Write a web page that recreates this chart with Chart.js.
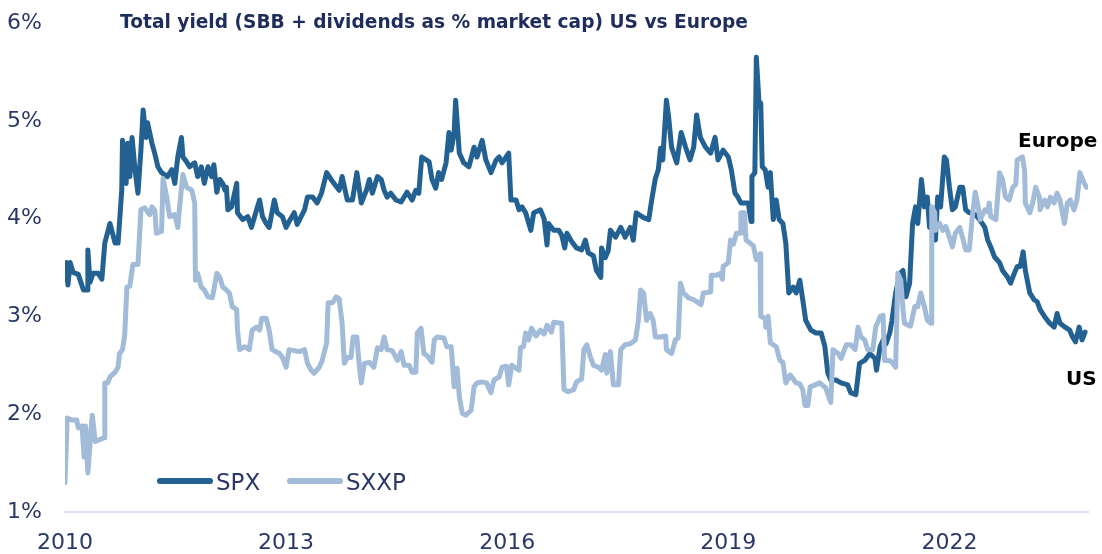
<!DOCTYPE html>
<html lang="en">
<head>
  <meta charset="UTF-8" />
  <title>Total yield US vs Europe</title>
  <script src="https://cdn.jsdelivr.net/npm/chart.js"></script>
  <style>
    body { margin: 0; background: #fff; }
    #wrap { width: 1102px; height: 554px; }
  </style>
</head>
<body>
<div id="wrap"><canvas id="yieldChart" width="1102" height="554"></canvas></div>

<script>
  // Dates as decimal years, values in % of market cap
  const spxYears = [2010.00,2010.02,2010.04,2010.07,2010.11,2010.18,2010.25,2010.30,2010.31,2010.34,2010.38,2010.45,2010.50,2010.54,2010.61,2010.68,2010.72,2010.77,2010.78,2010.83,2010.85,2010.88,2010.91,2010.95,2010.99,2011.03,2011.06,2011.10,2011.12,2011.18,2011.22,2011.26,2011.31,2011.39,2011.45,2011.49,2011.53,2011.58,2011.60,2011.65,2011.69,2011.76,2011.80,2011.85,2011.89,2011.94,2011.99,2012.02,2012.06,2012.10,2012.14,2012.17,2012.19,2012.21,2012.26,2012.33,2012.34,2012.41,2012.48,2012.53,2012.60,2012.64,2012.68,2012.73,2012.77,2012.84,2012.88,2012.95,2013.00,2013.04,2013.11,2013.15,2013.25,2013.29,2013.36,2013.42,2013.48,2013.55,2013.61,2013.65,2013.72,2013.76,2013.83,2013.90,2013.96,2014.02,2014.09,2014.13,2014.17,2014.24,2014.29,2014.33,2014.37,2014.42,2014.49,2014.56,2014.64,2014.71,2014.76,2014.80,2014.84,2014.90,2014.94,2014.98,2015.03,2015.07,2015.11,2015.17,2015.21,2015.24,2015.28,2015.30,2015.35,2015.41,2015.48,2015.55,2015.59,2015.66,2015.71,2015.78,2015.85,2015.89,2015.93,2016.02,2016.05,2016.12,2016.16,2016.20,2016.25,2016.32,2016.36,2016.45,2016.50,2016.54,2016.56,2016.63,2016.70,2016.74,2016.78,2016.81,2016.87,2016.94,2017.01,2017.06,2017.10,2017.17,2017.21,2017.27,2017.28,2017.33,2017.37,2017.40,2017.47,2017.54,2017.60,2017.67,2017.71,2017.75,2017.85,2017.92,2017.96,2018.01,2018.05,2018.08,2018.11,2018.16,2018.19,2018.23,2018.30,2018.36,2018.42,2018.48,2018.53,2018.57,2018.62,2018.69,2018.76,2018.82,2018.86,2018.93,2019.00,2019.04,2019.09,2019.13,2019.17,2019.27,2019.31,2019.32,2019.36,2019.38,2019.42,2019.44,2019.46,2019.50,2019.54,2019.57,2019.61,2019.65,2019.69,2019.74,2019.78,2019.82,2019.88,2019.92,2019.97,2020.01,2020.05,2020.12,2020.19,2020.26,2020.31,2020.35,2020.39,2020.46,2020.53,2020.62,2020.66,2020.73,2020.78,2020.85,2020.92,2020.99,2021.01,2021.06,2021.10,2021.14,2021.19,2021.22,2021.27,2021.33,2021.37,2021.41,2021.46,2021.50,2021.54,2021.57,2021.62,2021.66,2021.70,2021.73,2021.77,2021.81,2021.84,2021.88,2021.93,2021.96,2022.00,2022.04,2022.08,2022.14,2022.18,2022.22,2022.27,2022.35,2022.41,2022.48,2022.52,2022.56,2022.61,2022.68,2022.72,2022.79,2022.83,2022.88,2022.92,2022.96,2023.00,2023.03,2023.09,2023.15,2023.19,2023.23,2023.29,2023.36,2023.42,2023.46,2023.50,2023.57,2023.63,2023.67,2023.71,2023.76,2023.80,2023.84];
  const spxValues = [3.37,3.55,3.32,3.55,3.45,3.43,3.27,3.27,3.68,3.35,3.44,3.44,3.38,3.75,3.95,3.75,3.75,4.29,4.80,4.36,4.77,4.43,4.83,4.50,4.26,4.70,5.11,4.83,4.98,4.77,4.66,4.53,4.47,4.43,4.50,4.36,4.63,4.83,4.63,4.58,4.53,4.57,4.43,4.53,4.36,4.53,4.43,4.55,4.27,4.40,4.36,4.29,4.32,4.09,4.12,4.36,4.06,3.99,4.02,3.91,4.09,4.19,4.02,3.95,3.91,4.19,4.06,4.02,3.91,3.97,4.06,3.94,4.09,4.22,4.22,4.16,4.26,4.47,4.40,4.36,4.29,4.43,4.19,4.19,4.47,4.16,4.29,4.40,4.26,4.43,4.40,4.29,4.22,4.26,4.19,4.17,4.27,4.19,4.29,4.26,4.63,4.60,4.58,4.40,4.31,4.47,4.40,4.57,4.88,4.70,4.88,5.21,4.67,4.57,4.53,4.73,4.63,4.80,4.60,4.47,4.60,4.63,4.57,4.67,4.19,4.19,4.09,4.12,4.06,3.88,4.06,4.09,4.00,3.73,3.95,3.88,3.88,3.83,3.70,3.85,3.77,3.70,3.68,3.78,3.65,3.62,3.47,3.40,3.70,3.60,3.67,3.88,3.81,3.91,3.81,3.91,3.78,4.06,4.01,3.99,4.19,4.41,4.50,4.72,4.60,5.21,5.04,4.73,4.57,4.88,4.73,4.60,4.73,5.06,4.83,4.73,4.67,4.83,4.60,4.70,4.63,4.50,4.26,4.22,4.16,4.16,3.97,4.43,4.47,5.65,5.14,5.18,4.53,4.50,4.32,4.47,3.99,4.19,3.99,3.95,3.75,3.24,3.30,3.24,3.37,3.17,2.96,2.86,2.83,2.83,2.69,2.42,2.35,2.35,2.32,2.30,2.22,2.20,2.52,2.55,2.62,2.57,2.45,2.69,2.76,2.72,2.83,2.96,3.24,3.44,3.47,3.20,3.34,3.95,4.12,3.95,4.40,4.12,4.22,3.91,3.97,3.78,4.22,4.12,4.63,4.60,4.32,4.09,4.12,4.32,4.32,4.09,4.06,4.04,3.99,3.91,3.78,3.71,3.61,3.55,3.47,3.40,3.34,3.44,3.51,3.51,3.66,3.47,3.24,3.17,3.15,3.07,3.00,2.93,2.89,3.03,2.93,2.89,2.86,2.79,2.74,2.89,2.76,2.84];

  const sxxpYears = [2010.00,2010.03,2010.09,2010.16,2010.18,2010.23,2010.26,2010.28,2010.31,2010.37,2010.41,2010.47,2010.53,2010.54,2010.58,2010.61,2010.68,2010.72,2010.74,2010.78,2010.81,2010.84,2010.88,2010.92,2010.99,2011.03,2011.08,2011.15,2011.18,2011.22,2011.24,2011.31,2011.33,2011.38,2011.42,2011.49,2011.53,2011.56,2011.60,2011.65,2011.72,2011.76,2011.77,2011.80,2011.85,2011.89,2011.94,2012.00,2012.06,2012.10,2012.14,2012.19,2012.23,2012.27,2012.33,2012.34,2012.37,2012.44,2012.50,2012.54,2012.60,2012.64,2012.67,2012.73,2012.77,2012.81,2012.91,2012.95,2013.00,2013.04,2013.18,2013.25,2013.29,2013.34,2013.38,2013.45,2013.49,2013.55,2013.57,2013.63,2013.68,2013.72,2013.76,2013.79,2013.83,2013.88,2013.91,2013.96,2013.99,2014.02,2014.06,2014.13,2014.19,2014.24,2014.29,2014.33,2014.37,2014.44,2014.51,2014.56,2014.60,2014.67,2014.71,2014.76,2014.78,2014.83,2014.87,2014.91,2014.98,2015.01,2015.05,2015.14,2015.18,2015.24,2015.28,2015.32,2015.35,2015.39,2015.44,2015.51,2015.55,2015.59,2015.66,2015.72,2015.78,2015.82,2015.89,2015.93,2015.99,2016.02,2016.06,2016.16,2016.18,2016.22,2016.25,2016.29,2016.33,2016.39,2016.45,2016.50,2016.54,2016.60,2016.63,2016.74,2016.77,2016.83,2016.90,2016.94,2017.01,2017.04,2017.08,2017.13,2017.17,2017.24,2017.28,2017.33,2017.35,2017.40,2017.44,2017.51,2017.54,2017.60,2017.67,2017.74,2017.78,2017.81,2017.85,2017.89,2017.94,2017.98,2018.01,2018.08,2018.15,2018.16,2018.23,2018.28,2018.32,2018.35,2018.39,2018.46,2018.53,2018.59,2018.63,2018.66,2018.76,2018.77,2018.84,2018.89,2018.92,2018.93,2019.00,2019.03,2019.07,2019.11,2019.16,2019.17,2019.22,2019.24,2019.31,2019.34,2019.38,2019.43,2019.44,2019.50,2019.51,2019.54,2019.57,2019.65,2019.70,2019.74,2019.78,2019.84,2019.92,2019.97,2020.01,2020.04,2020.08,2020.11,2020.18,2020.24,2020.32,2020.39,2020.42,2020.49,2020.53,2020.60,2020.66,2020.72,2020.76,2020.80,2020.85,2020.89,2020.96,2021.00,2021.06,2021.10,2021.12,2021.19,2021.23,2021.27,2021.30,2021.34,2021.37,2021.39,2021.47,2021.53,2021.57,2021.61,2021.66,2021.70,2021.75,2021.76,2021.80,2021.81,2021.87,2021.91,2021.95,2022.00,2022.04,2022.08,2022.14,2022.18,2022.22,2022.27,2022.31,2022.35,2022.38,2022.42,2022.48,2022.52,2022.54,2022.56,2022.63,2022.68,2022.72,2022.76,2022.81,2022.86,2022.90,2022.92,2022.99,2023.02,2023.03,2023.09,2023.13,2023.17,2023.22,2023.23,2023.29,2023.33,2023.37,2023.42,2023.46,2023.50,2023.56,2023.60,2023.64,2023.69,2023.73,2023.77,2023.83,2023.86];
  const sxxpValues = [1.30,1.96,1.94,1.94,1.86,1.88,1.56,1.88,1.40,1.99,1.72,1.74,1.76,2.32,2.32,2.38,2.43,2.48,2.62,2.66,2.81,3.30,3.31,3.53,3.53,4.09,4.11,4.04,4.12,4.08,3.85,3.87,4.41,4.22,4.02,4.04,3.91,4.16,4.45,4.32,4.29,4.16,3.37,3.44,3.30,3.27,3.20,3.19,3.44,3.40,3.30,3.27,3.24,3.10,3.07,2.86,2.66,2.69,2.66,2.86,2.89,2.86,2.98,2.98,2.86,2.66,2.62,2.58,2.48,2.66,2.64,2.66,2.52,2.45,2.42,2.48,2.55,2.73,3.14,3.14,3.20,3.18,2.93,2.52,2.58,2.58,2.79,2.79,2.52,2.32,2.52,2.53,2.48,2.68,2.66,2.79,2.66,2.65,2.55,2.64,2.50,2.50,2.43,2.43,2.83,2.88,2.62,2.60,2.53,2.76,2.79,2.78,2.69,2.69,2.28,2.47,2.18,2.01,1.99,2.04,2.28,2.32,2.33,2.32,2.22,2.35,2.38,2.48,2.49,2.30,2.50,2.45,2.68,2.69,2.83,2.76,2.88,2.80,2.86,2.82,2.91,2.84,2.94,2.93,2.25,2.23,2.25,2.33,2.36,2.66,2.71,2.58,2.50,2.48,2.45,2.61,2.42,2.64,2.30,2.30,2.66,2.71,2.72,2.76,2.96,3.27,3.24,2.96,3.03,2.96,2.79,2.79,2.80,2.66,2.62,2.76,2.78,3.34,3.24,3.19,3.17,3.14,3.12,3.24,3.25,3.42,3.42,3.44,3.38,3.51,3.55,3.78,3.74,3.85,3.85,4.06,4.06,3.78,3.74,3.72,3.58,3.64,3.00,2.98,2.89,3.00,2.73,2.69,2.55,2.53,2.32,2.40,2.32,2.31,2.25,2.09,2.09,2.28,2.30,2.32,2.27,2.12,2.66,2.62,2.57,2.71,2.71,2.66,2.89,2.79,2.76,2.66,2.66,2.89,3.00,3.01,2.55,2.55,2.52,2.48,3.44,3.37,3.07,2.93,2.90,3.10,3.10,3.24,3.10,2.96,2.93,4.12,4.06,3.88,3.95,3.88,3.92,3.81,3.71,3.85,3.91,3.80,3.68,3.68,4.02,4.27,4.16,3.99,4.09,4.07,4.16,4.02,3.99,4.47,4.40,4.22,4.19,4.32,4.35,4.60,4.63,4.49,4.16,4.06,4.16,4.32,4.22,4.09,4.19,4.12,4.22,4.16,4.26,4.19,3.95,4.16,4.19,4.09,4.19,4.47,4.36,4.32];

  const yearTicks = [2010, 2013, 2016, 2019, 2022];
  const seriesNames = ['SPX', 'SXXP'];
  const seriesColors = ['#236192', '#a1bbd8'];
  const titleText = 'Total yield (SBB + dividends as % market cap) US vs Europe';

  const toPoints = (xs, ys) => xs.map((x, i) => ({ x: x, y: ys[i] }));

  const FONT = '"DejaVu Sans", sans-serif';
  const TEXT = '#2b3866';

  // title, legend and end labels sit on top of the plot
  const overlay = {
    id: 'overlay',
    afterDraw(chart) {
      const ctx = chart.ctx;
      ctx.save();
      ctx.textBaseline = 'alphabetic';
      ctx.textAlign = 'left';
      ctx.fillStyle = '#1f2d5c';
      ctx.font = 'bold 18.6px ' + FONT;
      ctx.fillText(titleText, 120, 28);

      // legend
      const legendX = [160, 290];
      chart.data.datasets.forEach((ds, i) => {
        ctx.strokeStyle = ds.borderColor;
        ctx.lineWidth = 6;
        ctx.lineCap = 'round';
        ctx.beginPath();
        ctx.moveTo(legendX[i], 481);
        ctx.lineTo(legendX[i] + 50, 481);
        ctx.stroke();
        ctx.fillStyle = TEXT;
        ctx.font = '23px ' + FONT;
        ctx.fillText(ds.label, legendX[i] + 56, 490);
      });

      ctx.fillStyle = '#000';
      ctx.font = 'bold 20px ' + FONT;
      ctx.fillText('Europe', 1018, 147);
      ctx.fillText('US', 1066, 385);
      ctx.restore();
    }
  };

  new Chart(document.getElementById('yieldChart'), {
    type: 'line',
    data: {
      datasets: [
        {
          label: seriesNames[0],
          data: toPoints(spxYears, spxValues),
          borderColor: seriesColors[0],
          borderWidth: 5,
          order: 1
        },
        {
          label: seriesNames[1],
          data: toPoints(sxxpYears, sxxpValues),
          borderColor: seriesColors[1],
          borderWidth: 5,
          order: 0
        }
      ]
    },
    options: {
      responsive: false,
      animation: false,
      devicePixelRatio: 1,
      layout: { padding: { left: 0, right: 14, top: 23, bottom: 0 } },
      elements: {
        point: { radius: 0 },
        line: { tension: 0, borderJoinStyle: 'round', borderCapStyle: 'round' }
      },
      plugins: {
        legend: { display: false },
        title: { display: false },
        tooltip: { enabled: false }
      },
      scales: {
        x: {
          type: 'linear',
          min: 2010,
          max: 2023.88,
          afterFit: s => { s.height = 42; },
          afterBuildTicks: s => { s.ticks = yearTicks.map(v => ({ value: v })); },
          grid: { display: false, drawTicks: false },
          border: { display: true, color: '#d7dff0', width: 2 },
          ticks: {
            autoSkip: false,
            maxRotation: 0,
            padding: 18,
            color: TEXT,
            font: { family: FONT, size: 22 },
            callback: v => String(v)
          }
        },
        y: {
          min: 1,
          max: 6,
          afterFit: s => { s.width = 65; },
          // invisible tick marks push the labels away from the plot
          grid: { display: true, drawOnChartArea: false, drawTicks: true, tickLength: 20, tickColor: 'rgba(0,0,0,0)' },
          border: { display: false },
          ticks: {
            stepSize: 1,
            padding: 3,
            color: TEXT,
            font: { family: FONT, size: 22 },
            callback: v => v + '%'
          }
        }
      }
    },
    plugins: [overlay]
  });
</script>
</body>
</html>
